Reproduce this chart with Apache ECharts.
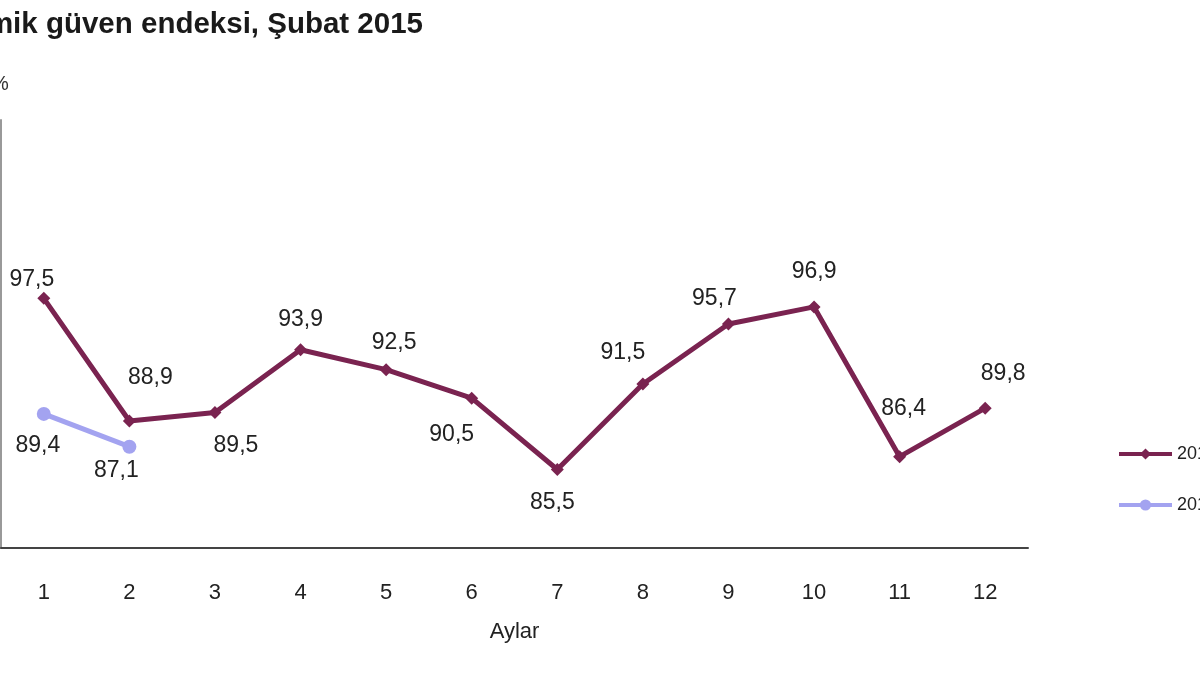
<!DOCTYPE html>
<html>
<head>
<meta charset="utf-8">
<script src="https://cdn.jsdelivr.net/npm/echarts@6/dist/echarts.min.js"></script>
<style>
html,body{margin:0;padding:0;background:#fff;}
#c{width:1200px;height:675px;}
</style>
</head>
<body>
<div id="c"></div>
<script>
const months = ['1','2','3','4','5','6','7','8','9','10','11','12'];
const series2014 = [97.5, 88.9, 89.5, 93.9, 92.5, 90.5, 85.5, 91.5, 95.7, 96.9, 86.4, 89.8];
const series2015 = [89.4, 87.1];
const seriesNames = ['2014', '2015'];
const titleText = 'Ekonomik güven endeksi, Şubat 2015';

// label placement (styling only)
const place2014 = [
  ['top', -12, 4], ['top', 21, -20], ['bottom', 21, 10], ['top', 0, -7],
  ['top', 8, -4], ['bottom', -20, 13], ['bottom', -5, 10], ['top', -20, -8],
  ['top', -14, -2], ['top', 0, -12], ['top', 4, -25], ['top', 18, -12]
];
const place2015 = [['bottom', -6, 8], ['bottom', -13, 0]];

const fmt = v => v.toFixed(1).replace('.', ',');
const FONT = '"Liberation Sans", Arial, sans-serif';

function withLabels(values, place) {
  return values.map((v, i) => ({
    value: v,
    label: { position: place[i][0], offset: [place[i][1], place[i][2]] }
  }));
}

const chart = echarts.init(document.getElementById('c'));
chart.setOption({
  animation: false,
  textStyle: { fontFamily: FONT },
  title: {
    text: titleText,
    right: 772,
    top: 5,
    textStyle: { fontSize: 29.5, fontWeight: 'bold', color: '#1a1a1a', fontFamily: FONT }
  },
  graphic: [{
    type: 'text', left: -9, top: 74,
    style: { text: '%', fontSize: 20, fill: '#333', fontFamily: FONT }
  }],
  legend: {
    orient: 'vertical',
    left: 1112,
    top: 440,
    itemWidth: 53,
    itemHeight: 14,
    itemGap: 33,
    textStyle: { fontSize: 18, color: '#222', fontFamily: FONT },
    lineStyle: { width: 4 },
    data: seriesNames
  },
  grid: { left: 1, right: 172, top: 120, bottom: 127, containLabel: false },
  xAxis: {
    type: 'category',
    data: months,
    boundaryGap: true,
    name: 'Aylar',
    nameLocation: 'middle',
    nameGap: 73,
    nameTextStyle: { fontSize: 22, color: '#222', fontFamily: FONT },
    axisLine: { lineStyle: { color: '#444', width: 2 } },
    axisTick: { alignWithLabel: true, length: 8, lineStyle: { color: '#333', width: 2 } },
    axisLabel: { fontSize: 22, color: '#222', margin: 34, fontFamily: FONT }
  },
  yAxis: {
    type: 'value',
    min: 80,
    max: 110,
    interval: 5,
    axisLine: { show: true, lineStyle: { color: '#999', width: 2 } },
    axisTick: { show: false },
    axisLabel: { show: false },
    splitLine: { show: false }
  },
  series: [
    {
      name: seriesNames[0],
      type: 'line',
      data: withLabels(series2014, place2014),
      symbol: 'diamond',
      symbolSize: 13,
      lineStyle: { color: '#7a2350', width: 5 },
      itemStyle: { color: '#7a2350' },
      label: {
        show: true, fontSize: 23, color: '#222', fontFamily: FONT,
        formatter: p => fmt(p.value)
      },
      z: 3
    },
    {
      name: seriesNames[1],
      type: 'line',
      data: withLabels(series2015, place2015),
      symbol: 'circle',
      symbolSize: 14,
      lineStyle: { color: '#a3a3f0', width: 5 },
      itemStyle: { color: '#a3a3f0' },
      label: {
        show: true, fontSize: 23, color: '#222', fontFamily: FONT,
        formatter: p => fmt(p.value)
      },
      z: 2
    }
  ]
});
</script>
</body>
</html>
